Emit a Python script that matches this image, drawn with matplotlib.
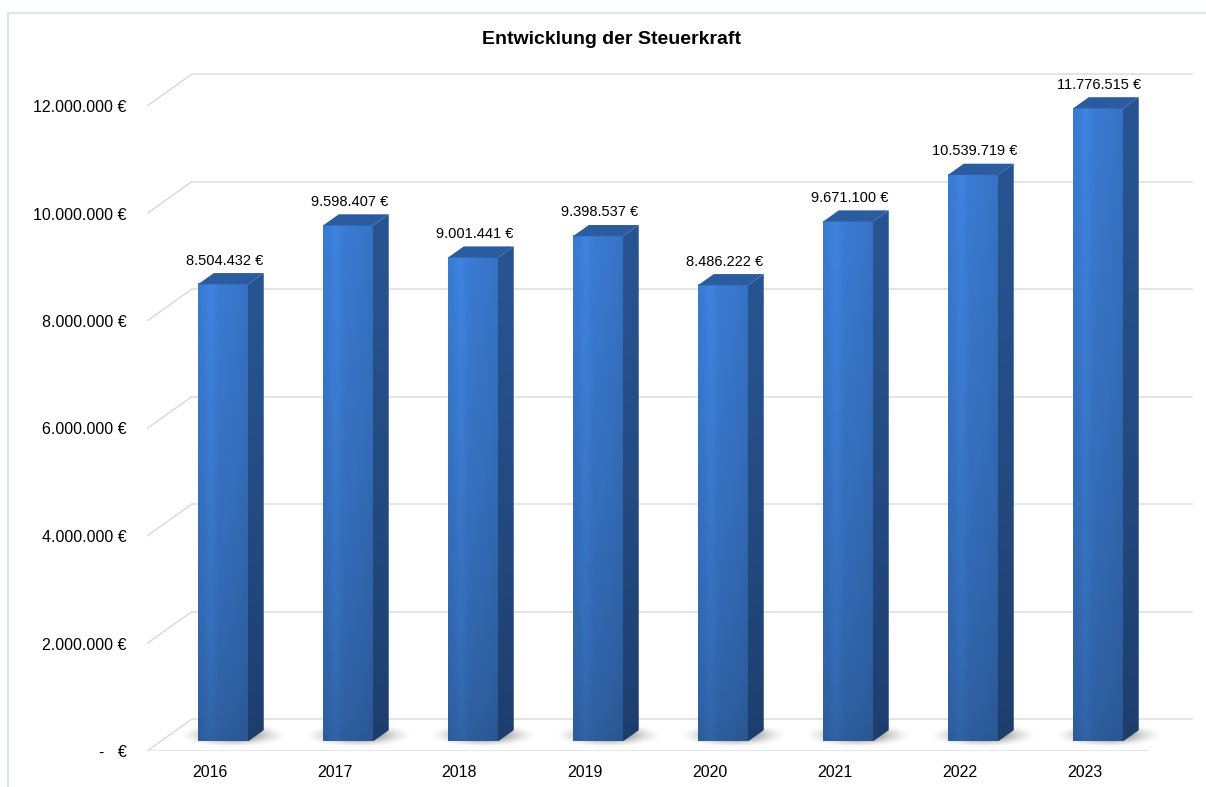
import numpy as np
import matplotlib
matplotlib.use("Agg")
import matplotlib.pyplot as plt
from matplotlib.patches import Polygon
from matplotlib.lines import Line2D
from matplotlib.colors import to_rgb

# ---------------- data ----------------
years = ["2016", "2017", "2018", "2019", "2020", "2021", "2022", "2023"]
values = [8504432, 9598407, 9001441, 9398537, 8486222, 9671100, 10539719, 11776515]
value_labels = ["8.504.432 €", "9.598.407 €", "9.001.441 €", "9.398.537 €",
                "8.486.222 €", "9.671.100 €", "10.539.719 €", "11.776.515 €"]
yticks = [0, 2000000, 4000000, 6000000, 8000000, 10000000, 12000000]
ytick_labels = ["-   €", "2.000.000 €", "4.000.000 €", "6.000.000 €",
                "8.000.000 €", "10.000.000 €", "12.000.000 €"]
title = "Entwicklung der Steuerkraft"

plt.rcParams['font.family'] = ['Liberation Sans', 'DejaVu Sans']

W, H = 1206, 787
fig = plt.figure(figsize=(W / 100, H / 100), dpi=100)
fig.patch.set_facecolor("white")

px_left, px_zero = 147, 751
px_per_cat = 125.0
px_per_unit = 53.75e-6
xlim = (-0.5, 7.9)
ylim = (0, 12.8e6)
ax_w = (xlim[1] - xlim[0]) * px_per_cat
ax_h = (ylim[1] - ylim[0]) * px_per_unit
ax = fig.add_axes([px_left / W, (H - px_zero) / H, ax_w / W, ax_h / H])
ax.set_xlim(*xlim)
ax.set_ylim(*ylim)
for s in ax.spines.values():
    s.set_visible(False)

# oblique depth vector (full depth)
DX = 45 / px_per_cat
DY = 32 / px_per_unit
d0, d1 = 0.30, 0.65
half_w = 0.2
n = len(years)
x_front_left = -0.5
x_front_right = n - 0.5

# --------------- grid / walls ---------------
for v in yticks:
    ax.plot([x_front_left, x_front_left + DX], [v, v + DY], color="#d8d8d8",
            lw=1.0, zorder=1, solid_capstyle="butt")
    ax.plot([x_front_left + DX, x_front_right + DX], [v + DY, v + DY],
            color="#dcdcdc", lw=1.1, zorder=1)
ax.plot([x_front_left, x_front_right], [0, 0], color="#dde4ee", lw=2.0, zorder=1)

# --------------- helpers ---------------
def lerp(c1, c2, t):
    c1, c2 = np.array(to_rgb(c1)), np.array(to_rgb(c2))
    t = np.asarray(t)[..., None]
    return c1 * (1 - t) + c2 * t

# --------------- bars ---------------
for i, v in enumerate(values):
    xl = i - half_w + d0 * DX
    xr = i + half_w + d0 * DX
    yb = d0 * DY
    yt = v + d0 * DY
    ox, oy = (d1 - d0) * DX, (d1 - d0) * DY

    # shadow on floor
    cx, cy = i + 0.19, 0.30e6
    sx, sy = 0.42, 0.22e6
    gx = np.linspace(cx - sx, cx + sx, 160)
    gy = np.linspace(cy - sy, cy + sy, 60)
    XX, YY = np.meshgrid(gx, gy)
    r = ((XX - cx) / sx) ** 2 + ((YY - cy) / sy) ** 2
    alpha = 0.75 * np.exp(-1.8 * r) * np.clip(1 - r, 0, 1) ** 0.8
    img = np.zeros(XX.shape + (4,))
    img[..., :3] = 0.30
    img[..., 3] = alpha
    ax.imshow(img, extent=[gx[0], gx[-1], gy[0], gy[-1]], origin="lower",
              aspect="auto", zorder=2, interpolation="bilinear")

    # front face gradient
    ny, nx = 100, 40
    tv = np.linspace(0, 1, ny)[:, None] * np.ones((1, nx))
    base = lerp("#2d5c9b", "#3a7bd2", tv ** 0.7)
    hx = np.linspace(0, 1, nx)
    hmul = 1.0 + 0.07 * np.exp(-((hx - 0.25) / 0.12) ** 2) - 0.07 * hx ** 3
    front = np.clip(base * hmul[None, :, None], 0, 1)
    ax.imshow(front, extent=[xl, xr, yb, yt], origin="lower", aspect="auto",
              zorder=3, interpolation="bilinear")

    # side face
    side_poly = [(xr, yb), (xr + ox, yb + oy), (xr + ox, yt + oy), (xr, yt)]
    side_img = lerp("#1d3d6c", "#285592", np.linspace(0, 1, 100) ** 0.8)[:, None, :] * np.ones((1, 4, 1))
    im = ax.imshow(side_img, extent=[xr, xr + ox, yb, yt + oy], origin="lower",
                   aspect="auto", zorder=3, interpolation="bilinear")
    clip = Polygon(side_poly, closed=True, transform=ax.transData)
    im.set_clip_path(clip)

    # top face
    top_poly = [(xl, yt), (xr, yt), (xr + ox, yt + oy), (xl + ox, yt + oy)]
    ax.add_patch(Polygon(top_poly, closed=True, facecolor="#2b5c9f",
                         edgecolor="none", zorder=4))

    # value label
    ax.annotate(value_labels[i], xy=(i + d0 * DX + 0.01, v + d1 * DY),
                xytext=(0, 4), textcoords="offset points", ha="center",
                va="bottom", fontsize=10.5, color="black", zorder=6,
                annotation_clip=False)

# --------------- ticks ---------------
ax.set_yticks(yticks, ytick_labels)
ax.set_xticks(range(n), years)
ax.tick_params(axis="y", length=0, pad=14.5, labelsize=11.5, colors="black")
ax.tick_params(axis="x", length=0, pad=10, labelsize=11.5, colors="black")

# --------------- title & border ---------------
fig.text(612 / W, 1 - 40 / H, title, ha="center", va="center",
         fontsize=14, fontweight="bold")
fig.add_artist(Line2D([8 / W, 1], [1 - 13 / H, 1 - 13 / H],
                      transform=fig.transFigure, color="#dce6f2", lw=1.5))
fig.add_artist(Line2D([8 / W, 8 / W], [0, 1 - 13 / H],
                      transform=fig.transFigure, color="#dce6f2", lw=1.5))

fig.savefig("out.png", dpi=100, facecolor="white")
